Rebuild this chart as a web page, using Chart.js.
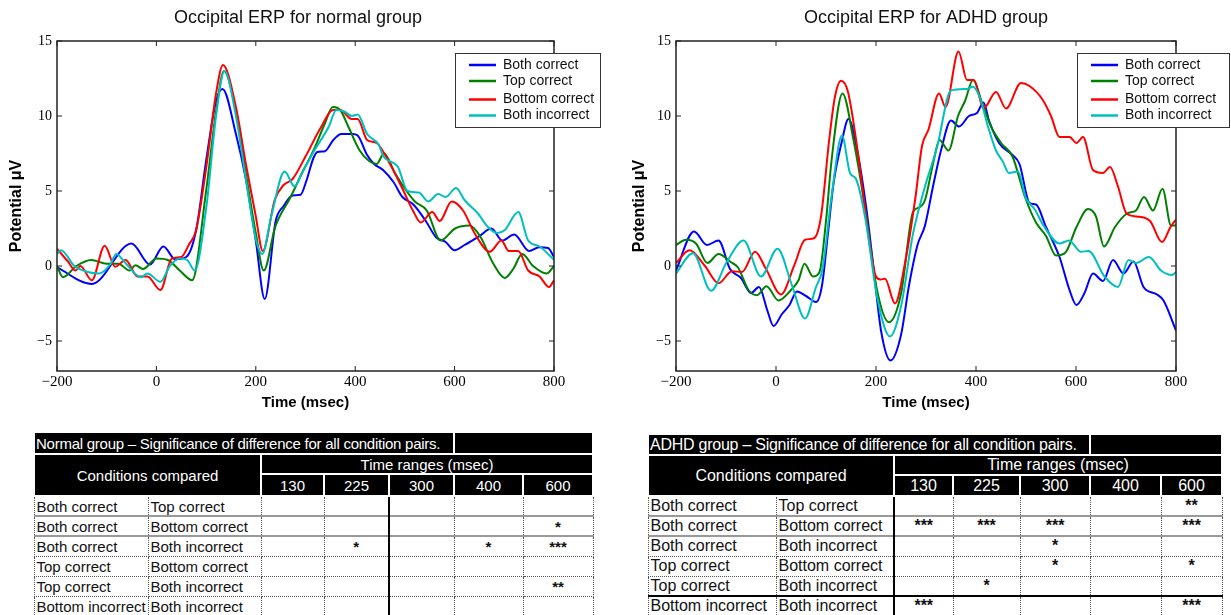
<!DOCTYPE html>
<html>
<head>
<meta charset="utf-8">
<script src="https://cdn.jsdelivr.net/npm/chart.js@4.4.1/dist/chart.umd.min.js"></script>
<style>
body { margin: 0; background: #fff; width: 1231px; height: 615px; overflow: hidden; position: relative; }
#normalChart { position: absolute; left: -7px; top: 0; }
#adhdChart { position: absolute; left: 616px; top: 0; }
table.sig { position: absolute; border-collapse: collapse; table-layout: fixed; font-family: "Liberation Sans", Arial, sans-serif; color: #111; }
table.sig td { padding: 0 2px; overflow: hidden; white-space: nowrap; border: 1px dotted #555; line-height: 1; }
table.sig td.hd { background: #000; color: #fff; text-align: center; border: 2px solid #fff; }
table.sig td.cap { text-align: left; padding-left: 1px; letter-spacing: -0.25px; }
table.sig td.st { text-align: center; font-weight: bold; }
#normalTable { left: 33px; top: 431px; width: 559px; font-size: 15px; }
#adhdTable { left: 647px; top: 433px; width: 574px; font-size: 16px; }
#normalTable tr.d0 td, #normalTable tr.d1 td, #normalTable tr.d2 td,
#adhdTable tr.d0 td, #adhdTable tr.d1 td, #adhdTable tr.d2 td { border-top: 2px solid #999; }
#normalTable tr.d td:nth-child(5) { border-left: 2px solid #000; }
#adhdTable tr.d td:nth-child(3) { border-left: 2px solid #000; }
#adhdTable tr.d5 td { border-top: 2px solid #000; }
</style>
</head>
<body>
<canvas id="normalChart" width="610" height="420"></canvas>
<canvas id="adhdChart" width="620" height="420"></canvas>
<table class="sig" id="normalTable"></table>
<table class="sig" id="adhdTable"></table>
<script>
// axis ticks
const xTicks = [-200, 0, 200, 400, 600, 800];
const yTicks = [-5, 0, 5, 10, 15];

const seriesLabels = ['Both correct', 'Top correct', 'Bottom correct', 'Both incorrect'];
const seriesColors = ['#0000ff', '#008000', '#ff0000', '#00bfbf'];

// normal group (time in msec, potential in uV)
const normalBothCorrectT = [-200,-130,-50,-13,14,38,60,80,100,120,133,160,180,200,218,240,256,274,290,302,316,324,339,356,372,395,405,424,438,456,477,495,517,542,563,582,600,620,650,674,696,720,750,770,788,800];
const normalBothCorrectV = [-0.1,-1.2,1.5,0.1,1.3,0.45,0.6,2.4,7.0,11.0,11.8,8.8,5.8,1.7,-2.2,3.0,4.0,4.7,4.75,5.7,7.2,7.6,7.65,8.4,8.8,8.8,8.7,7.4,6.8,6.4,5.6,4.6,4.1,3.0,1.9,1.6,1.05,1.4,2.0,2.5,1.7,2.1,1.0,1.25,1.2,0.6];

const normalTopCorrectT = [-200,-188,-161,-131,-100,-77,-54,-42,-27,0,23,47,72,100,120,136,160,180,200,216,239,270,293,316,339,355,370,386,409,428,443,458,480,497,520,544,572,601,630,651,678,701,718,736,758,785,800];
const normalTopCorrectV = [0.0,-0.75,0.0,0.4,0.15,0.15,-0.3,0.05,-0.2,0.5,0.4,-0.3,-0.95,5.0,10.3,13.0,10.4,6.2,2.2,-0.3,2.6,4.6,6.2,7.7,9.5,10.6,10.4,9.3,7.7,7.0,6.8,7.5,6.2,5.3,4.3,3.7,1.7,2.5,2.7,2.0,0.15,-0.8,-0.2,0.8,0.0,-0.5,0.0];

const normalBottomCorrectT = [-200,-178,-163,-153,-130,-104,-83,-62,-38,-18,8,31,50,65,80,100,120,134,160,180,200,214,238,256,274,300,332,355,370,393,405,424,443,470,493,516,532,555,570,594,617,640,671,694,709,728,748,771,790,800];
const normalBottomCorrectV = [1.15,0.3,-0.3,0.0,-0.95,1.35,-0.05,0.4,-0.7,-0.7,-1.6,0.5,0.6,1.4,2.4,6.5,11.5,13.4,10.6,6.8,3.3,1.0,4.4,5.4,5.8,7.3,9.3,10.4,10.4,9.8,9.8,8.4,8.2,6.8,5.3,3.7,2.9,3.6,3.0,4.3,3.7,2.2,0.95,1.7,1.0,1.0,-0.3,-0.7,-1.4,-0.95];

const normalBothIncorrectT = [-200,-192,-165,-138,-115,-92,-81,-61,-31,-18,8,27,47,62,77,100,120,137,160,180,200,213,231,258,278,293,316,347,362,378,393,405,424,447,457,486,505,528,547,567,582,603,620,647,667,686,701,728,748,771,800];
const normalBothIncorrectV = [0.8,1.05,0.0,-0.4,-0.5,0.15,0.8,0.15,-0.75,-0.5,-1.05,0.0,0.5,0.4,-0.3,3.8,10.0,13.0,10.0,5.8,1.8,0.8,3.3,6.3,5.3,6.2,7.6,9.3,10.4,10.3,10.0,10.1,8.8,8.1,7.3,6.6,5.0,4.9,4.3,4.8,4.6,5.2,4.4,3.5,2.6,2.2,2.4,3.6,1.7,1.3,0.4];

// ADHD group
const adhdBothCorrectT = [-200,-164,-138,-115,-92,-70,-50,-34,-17,-5,12,27,42,60,80,92,104,115,131,145,163,180,194,210,229,250,266,283,298,314,330,350,366,386,402,415,426,446,473,487,507,520,540,567,587,601,617,634,654,674,695,715,735,762,775,800];
const adhdBothCorrectV = [-0.3,2.3,1.4,1.7,-0.2,-0.8,-1.8,-1.4,-3.0,-4.0,-3.2,-2.6,-1.7,-2.0,-2.4,-1.3,2.2,5.5,8.2,9.8,7.6,4.0,0.2,-4.3,-6.3,-4.6,-1.3,1.4,2.7,5.3,7.7,9.7,9.3,10.0,10.2,10.9,9.7,8.2,7.4,6.8,4.2,4.1,2.6,0.6,-1.6,-2.6,-1.8,-0.5,-1.0,0.4,-0.5,0.3,-1.4,-1.9,-2.3,-4.3];

const adhdTopCorrectT = [-200,-180,-160,-137,-115,-90,-76,-55,-38,-19,5,30,45,57,74,87,100,111,133,155,178,202,226,250,274,286,298,314,327,345,364,378,394,412,430,450,473,498,520,540,560,579,601,624,640,656,678,702,720,736,754,773,790,800];
const adhdTopCorrectV = [1.4,1.75,1.5,0.2,0.8,0.25,-0.1,-1.6,-1.95,-1.35,-2.3,-1.6,-0.95,0.15,-0.7,-0.4,3.0,7.0,11.5,8.4,3.9,-1.6,-3.75,-1.85,3.6,3.9,4.4,6.8,8.4,7.7,10.0,11.0,12.4,10.9,9.3,8.2,7.3,4.6,2.9,2.0,0.7,0.9,2.6,3.8,3.3,1.3,2.6,3.5,3.7,4.6,3.7,5.15,2.7,2.7];

const adhdBottomCorrectT = [-200,-173,-142,-115,-88,-68,-42,-20,10,36,58,76,90,107,118,130,144,164,185,200,209,218,238,258,279,292,305,326,339,365,382,396,415,440,460,490,507,533,550,567,587,601,614,634,654,668,684,701,721,748,772,789,800];
const adhdBottomCorrectV = [0.2,1.05,0.0,-1.15,-0.35,-0.4,0.95,-0.2,-1.9,0.0,1.75,1.85,3.3,8.6,11.3,12.35,11.6,7.5,2.0,-0.7,-0.9,-0.85,-2.5,0.2,4.6,8.0,9.1,11.5,10.6,14.3,12.4,12.4,10.5,11.6,10.5,12.2,12.0,11.1,10.0,8.6,8.6,8.2,8.6,6.4,6.2,6.6,5.3,3.5,3.3,3.0,1.6,2.6,3.1];

const adhdBothIncorrectT = [-200,-166,-130,-98,-65,-30,3,32,58,80,93,111,132,148,160,178,203,228,250,274,298,322,350,382,394,408,424,440,453,466,484,500,517,535,567,586,610,625,657,684,705,720,746,770,792,800];
const adhdBothIncorrectV = [-0.5,0.85,-1.65,0.3,1.7,-0.7,1.15,-1.3,-3.5,-1.4,-0.2,4.6,8.7,6.2,5.8,3.3,-2.2,-4.7,-2.7,2.15,5.3,7.9,11.7,11.8,11.95,11.2,9.3,7.7,7.0,6.2,6.3,4.5,3.8,2.7,1.5,1.7,0.95,1.0,-0.7,-1.4,0.4,0.2,0.6,-0.3,-0.6,-0.4];

// significance tables
const conditionA = ['Both correct', 'Both correct', 'Both correct', 'Top correct', 'Top correct', 'Bottom incorrect'];
const conditionB = ['Top correct', 'Bottom correct', 'Both incorrect', 'Bottom correct', 'Both incorrect', 'Both incorrect'];
const timeRanges = ['130', '225', '300', '400', '600'];
const normalStars = [
    ['', '', '', '', ''],
    ['', '', '', '', '*'],
    ['', '*', '', '*', '***'],
    ['', '', '', '', ''],
    ['', '', '', '', '**'],
    ['', '', '', '', '']
];
const adhdStars = [
    ['', '', '', '', '**'],
    ['***', '***', '***', '', '***'],
    ['', '', '*', '', ''],
    ['', '', '*', '', '*'],
    ['', '*', '', '', ''],
    ['***', '', '', '', '***']
];

Chart.defaults.color = '#000';

// box, inward ticks and legend like the matplotlib original
const framePlugin = {
    id: 'ergFrame',
    afterDatasetsDraw(chart, args, opts) {
        const {ctx, chartArea: a, scales: {x, y}} = chart;
        ctx.save();
        ctx.strokeStyle = '#222';
        ctx.lineWidth = 1.5;
        ctx.strokeRect(a.left, a.top, a.right - a.left, a.bottom - a.top);
        ctx.lineWidth = 1;
        ctx.beginPath();
        x.ticks.forEach(t => {
            const px = x.getPixelForValue(t.value);
            ctx.moveTo(px, a.bottom); ctx.lineTo(px, a.bottom - 5);
            ctx.moveTo(px, a.top); ctx.lineTo(px, a.top + 5);
        });
        y.ticks.forEach(t => {
            const py = y.getPixelForValue(t.value);
            ctx.moveTo(a.left, py); ctx.lineTo(a.left + 5, py);
            ctx.moveTo(a.right, py); ctx.lineTo(a.right - 5, py);
        });
        ctx.stroke();

        const b = opts.box;
        ctx.fillStyle = '#fff';
        ctx.fillRect(b.x, b.y, b.w, b.h);
        ctx.strokeStyle = '#333';
        ctx.strokeRect(b.x + 0.5, b.y + 0.5, b.w, b.h);
        ctx.font = '14px "Liberation Sans", Arial, sans-serif';
        ctx.textBaseline = 'middle';
        chart.data.datasets.forEach((ds, i) => {
            const ry = b.y + opts.rows[i];
            ctx.strokeStyle = ds.borderColor;
            ctx.lineWidth = 2.5;
            ctx.beginPath();
            ctx.moveTo(b.x + 14, ry); ctx.lineTo(b.x + 41, ry);
            ctx.stroke();
            ctx.fillStyle = '#111';
            ctx.fillText(ds.label, b.x + 48, ry);
        });
        ctx.restore();
    }
};

function makeChart(id, title, series, leftW, rightW, box) {
    return new Chart(document.getElementById(id), {
        type: 'line',
        data: {
            datasets: series.map((s, i) => ({
                label: seriesLabels[i],
                data: s[0].map((t, k) => ({x: t, y: s[1][k]})),
                borderColor: seriesColors[i],
                borderWidth: 2,
                pointRadius: 0,
                fill: false,
                cubicInterpolationMode: 'monotone',
                order: 4 - i
            }))
        },
        options: {
            responsive: false,
            animation: false,
            devicePixelRatio: 1,
            layout: {padding: 0},
            plugins: {
                legend: {display: false},
                tooltip: {enabled: false},
                title: {
                    display: true,
                    text: title,
                    color: '#111',
                    font: {family: '"Liberation Sans", Arial, sans-serif', size: 18, weight: 'normal'},
                    padding: {top: 7.2, bottom: 12.2}
                },
                ergFrame: {box: box, rows: [12, 28, 46.5, 62.5]}
            },
            scales: {
                x: {
                    type: 'linear',
                    min: -200,
                    max: 800,
                    afterBuildTicks: s => { s.ticks = xTicks.map(v => ({value: v})); },
                    afterFit: s => { s.height = 49; },
                    ticks: {
                        padding: 2,
                        maxRotation: 0,
                        font: {family: '"Liberation Serif", "DejaVu Serif", serif', size: 15},
                        callback: v => String(v).replace('-', '\u2212')
                    },
                    grid: {display: false, drawTicks: false},
                    border: {display: false},
                    title: {
                        display: true,
                        text: 'Time (msec)',
                        font: {family: '"Liberation Sans", Arial, sans-serif', size: 15, weight: 'bold'},
                        padding: {top: 0, bottom: 8}
                    }
                },
                y: {
                    type: 'linear',
                    min: -7,
                    max: 15,
                    afterBuildTicks: s => { s.ticks = yTicks.map(v => ({value: v})); },
                    afterFit: s => { s.width = leftW; },
                    ticks: {
                        padding: 5,
                        font: {family: '"Liberation Serif", "DejaVu Serif", serif', size: 14},
                        callback: v => String(v).replace('-', '\u2212')
                    },
                    grid: {display: false, drawTicks: false},
                    border: {display: false},
                    title: {
                        display: true,
                        text: 'Potential \u03bcV',
                        font: {family: '"Liberation Sans", Arial, sans-serif', size: 16, weight: 'bold'},
                        padding: {top: 14, bottom: 0}
                    }
                },
                yRight: {
                    position: 'right',
                    display: true,
                    afterFit: s => { s.width = rightW; },
                    ticks: {display: false},
                    grid: {display: false, drawTicks: false},
                    border: {display: false}
                }
            }
        },
        plugins: [framePlugin]
    });
}

makeChart('normalChart', 'Occipital ERP for normal group', [
    [normalBothCorrectT, normalBothCorrectV],
    [normalTopCorrectT, normalTopCorrectV],
    [normalBottomCorrectT, normalBottomCorrectV],
    [normalBothIncorrectT, normalBothIncorrectV]
], 64, 49, {x: 462, y: 53, w: 145, h: 74});

makeChart('adhdChart', 'Occipital ERP for ADHD group', [
    [adhdBothCorrectT, adhdBothCorrectV],
    [adhdTopCorrectT, adhdTopCorrectV],
    [adhdBottomCorrectT, adhdBottomCorrectV],
    [adhdBothIncorrectT, adhdBothIncorrectV]
], 60, 60, {x: 461, y: 53, w: 152, h: 74});

// tables
function buildTable(id, caption, stars, cols, rowH) {
    let h = '<colgroup>' + cols.map(w => `<col style="width:${w}px">`).join('') + '</colgroup>';
    h += `<tr style="height:${rowH[0]}px"><td class="hd cap" colspan="5">${caption}</td><td class="hd" colspan="2"></td></tr>`;
    h += `<tr style="height:${rowH[1]}px"><td class="hd" colspan="2" rowspan="2">Conditions compared</td><td class="hd" colspan="5">Time ranges (msec)</td></tr>`;
    h += `<tr style="height:${rowH[2]}px">` + timeRanges.map(t => `<td class="hd">${t}</td>`).join('') + '</tr>';
    stars.forEach((row, i) => {
        h += `<tr class="d d${i}" style="height:${rowH[3]}px"><td>${conditionA[i]}</td><td>${conditionB[i]}</td>` +
            row.map(s => `<td class="st">${s}</td>`).join('') + '</tr>';
    });
    document.getElementById(id).innerHTML = h;
}

buildTable('normalTable', 'Normal group \u2013 Significance of difference for all condition pairs.', normalStars,
    [114, 113, 63, 65, 65, 69, 70], [22, 20, 22, 20]);
buildTable('adhdTable', 'ADHD group \u2013 Significance of difference for all condition pairs.', adhdStars,
    [128, 118, 59, 67, 70, 71, 61], [21, 20, 21, 20]);
</script>
</body>
</html>
